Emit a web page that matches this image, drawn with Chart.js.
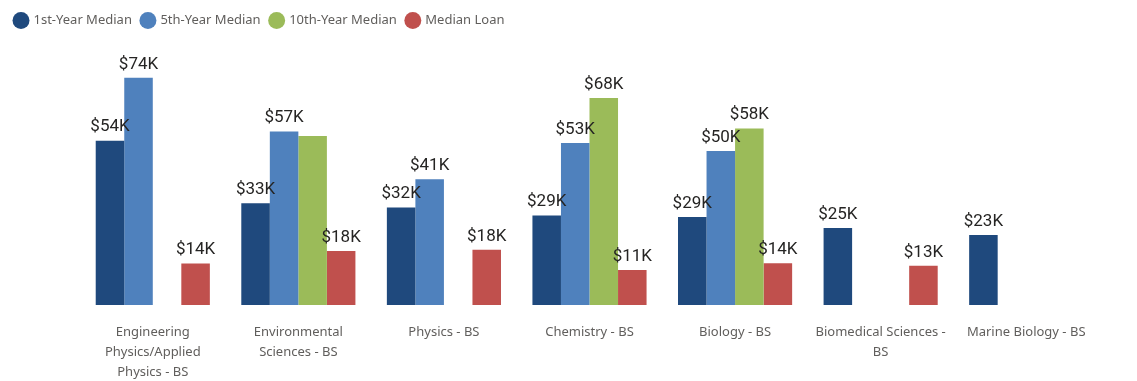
<!DOCTYPE html>
<html>
<head>
<meta charset="utf-8">
<script src="https://cdn.jsdelivr.net/npm/chart.js@4.4.1/dist/chart.umd.min.js"></script>
<style>
html,body{margin:0;padding:0;background:#fff;}
#wrap{width:1137px;height:381px;position:relative;}
</style>
</head>
<body>
<div id="wrap"><canvas id="c" width="1137" height="381"></canvas></div>
<script>
const categories = [
  ["Engineering","Physics/Applied","Physics - BS"],
  ["Environmental","Sciences - BS"],
  ["Physics - BS"],
  ["Chemistry - BS"],
  ["Biology - BS"],
  ["Biomedical Sciences -","BS"],
  ["Marine Biology - BS"]
];
const firstYear = [53.6, 33.2, 31.8, 29.2, 28.7, 25.1, 22.8];
const fifthYear = [74.1, 56.6, 41.0, 52.8, 50.2, null, null];
const tenthYear = [null, 55.1, null, 67.5, 57.6, null, null];
const medianLoan = [13.5, 17.6, 18.0, 11.4, 13.6, 12.8, null];
const seriesNames = ["1st-Year Median","5th-Year Median","10th-Year Median","Median Loan"];
const seriesColors = ["#1F497D","#4F81BD","#9BBB59","#C0504D"];

const labelPlugin = {
  id: 'barLabels',
  afterDatasetsDraw(chart) {
    const ctx = chart.ctx;
    ctx.save();
    ctx.font = '17px Roboto, "DejaVu Sans", sans-serif';
    ctx.fillStyle = '#252423';
    ctx.textAlign = 'center';
    ctx.textBaseline = 'bottom';
    const placed = [];
    chart.data.datasets.forEach((ds, di) => {
      const meta = chart.getDatasetMeta(di);
      meta.data.forEach((bar, i) => {
        const v = ds.data[i];
        if (v === null || v === undefined) return;
        const txt = '$' + Math.round(v) + 'K';
        const w = ctx.measureText(txt).width;
        const x = bar.x, y = bar.y - 5;
        const r = {l: x - w/2, r: x + w/2, t: y - 16, b: y};
        const hit = placed.some(p => !(r.r <= p.l || r.l >= p.r || r.b <= p.t || r.t >= p.b));
        if (hit) return;
        placed.push(r);
        ctx.fillText(txt, x, y);
      });
    });
    ctx.restore();
  }
};

new Chart(document.getElementById('c'), {
  type: 'bar',
  data: {
    labels: categories,
    datasets: [firstYear, fifthYear, tenthYear, medianLoan].map((d, i) => ({
      label: seriesNames[i],
      data: d,
      backgroundColor: seriesColors[i],
      borderWidth: 0,
      categoryPercentage: 0.784,
      barPercentage: 1.0
    }))
  },
  options: {
    responsive: false,
    animation: false,
    layout: { padding: { left: 5, right: 38, top: 4, bottom: 0 } },
    plugins: {
      legend: {
        position: 'top',
        align: 'start',
        labels: {
          usePointStyle: true,
          pointStyle: 'circle',
          boxWidth: 12,
          boxHeight: 12,
          padding: 10,
          color: '#605E5C',
          font: { family: '"Segoe UI", "Noto Sans", sans-serif', size: 13 }
        }
      },
      tooltip: { enabled: false }
    },
    scales: {
      x: {
        grid: { display: false, drawTicks: false },
        border: { display: false },
        ticks: {
          color: '#605E5C',
          maxRotation: 0,
          autoSkip: false,
          padding: 17,
          font: { family: '"Segoe UI", "Noto Sans", sans-serif', size: 13, lineHeight: 1.54 }
        },
        afterFit(s) { s.height = 76; }
      },
      y: {
        min: 0,
        max: 87.4,
        grid: { display: false },
        border: { display: false },
        ticks: { display: false },
        afterFit(s) { s.width = 75; }
      }
    }
  },
  plugins: [labelPlugin]
});
</script>
</body>
</html>
